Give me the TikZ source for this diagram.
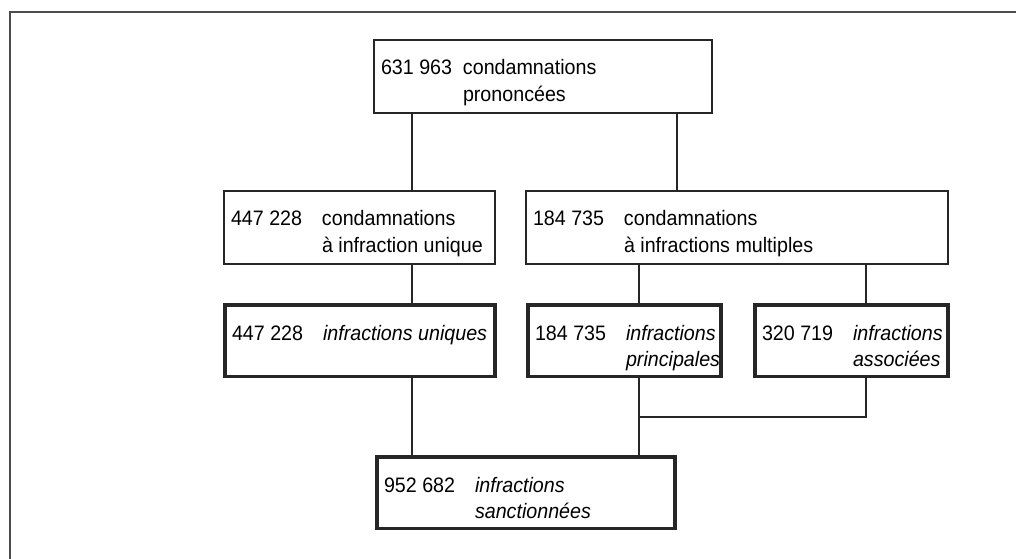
\documentclass[tikz,border=0pt]{standalone}
\usepackage{fontspec}
\setmainfont[FakeStretch=0.94]{Liberation Sans}
\newlength{\pix}
\setlength{\pix}{0.75pt}
% #1 box width, #2 number column, #3 number, #4 label
\newcommand{\entry}[4]{\makebox[#1\pix][l]{\hspace*{7\pix}\makebox[#2\pix][l]{#3}\parbox[t]{\dimexpr#1\pix-#2\pix-7\pix\relax}{#4}}}

\begin{document}
\begin{tikzpicture}[
		x=0.75pt, y=-0.75pt,
		every node/.style={font=\fontsize{15.7pt}{20pt}\selectfont, text=black},
		cbox/.style={draw=black!85, line width=1pt, inner sep=0pt, outer sep=0pt,
			anchor=north west, text height=26.25pt, text depth=28.5pt},
		tbox/.style={cbox, line width=2.4pt, text depth=27.5pt},
		link/.style={draw=black!85, line width=1pt}
		]
		\useasboundingbox (0,0) rectangle (1016,559);
		% cadre
		\draw[black!70, line width=1.5pt] (10,559) |- (1016,12.5);
		
		% condamnations
		\node[cbox] (top) at (374,40) {\entry{338}{82}{631 963}{condamnations\\prononcées}};
		\node[cbox] (lmid) at (224,191) {\entry{271}{91}{447 228}{condamnations\\à infraction unique}};
		\node[cbox] (rmid) at (526,191) {\entry{422}{91}{184 735}{condamnations\\à infractions multiples}};
		
		% infractions
		\node[tbox] (lbot) at (225,305) {\entry{270}{91}{447 228}{\itshape infractions uniques}};
		\node[tbox] (mbot) at (528,305) {\entry{193}{91}{184 735}{\itshape infractions\\principales}};
		\node[tbox] (rbot) at (755,305) {\entry{193}{91}{320 719}{\itshape infractions\\associées}};
		\node[tbox] (total) at (377,457) {\entry{298}{91}{952 682}{\itshape infractions\\sanctionnées}};
		
		% colonnes des traits
		\coordinate (xa) at (412,0);
		\coordinate (xb) at (677,0);
		\coordinate (xc) at (639,0);
		\coordinate (xd) at (866,0);
		\coordinate (jn) at (639,417);
		
		% traits
		\draw[link] (top.south -| xa) -- (lmid.north -| xa);
		\draw[link] (top.south -| xb) -- (rmid.north -| xb);
		\draw[link] (lmid.south -| xa) -- (lbot.north -| xa);
		\draw[link] (rmid.south -| xc) -- (mbot.north -| xc);
		\draw[link] (rmid.south -| xd) -- (rbot.north -| xd);
		\draw[link] (lbot.south -| xa) -- (total.north -| xa);
		\draw[link] (mbot.south -| xc) -- (total.north -| xc);
		\draw[link] (rbot.south -| xd) |- (jn);
	\end{tikzpicture}
\end{document}
